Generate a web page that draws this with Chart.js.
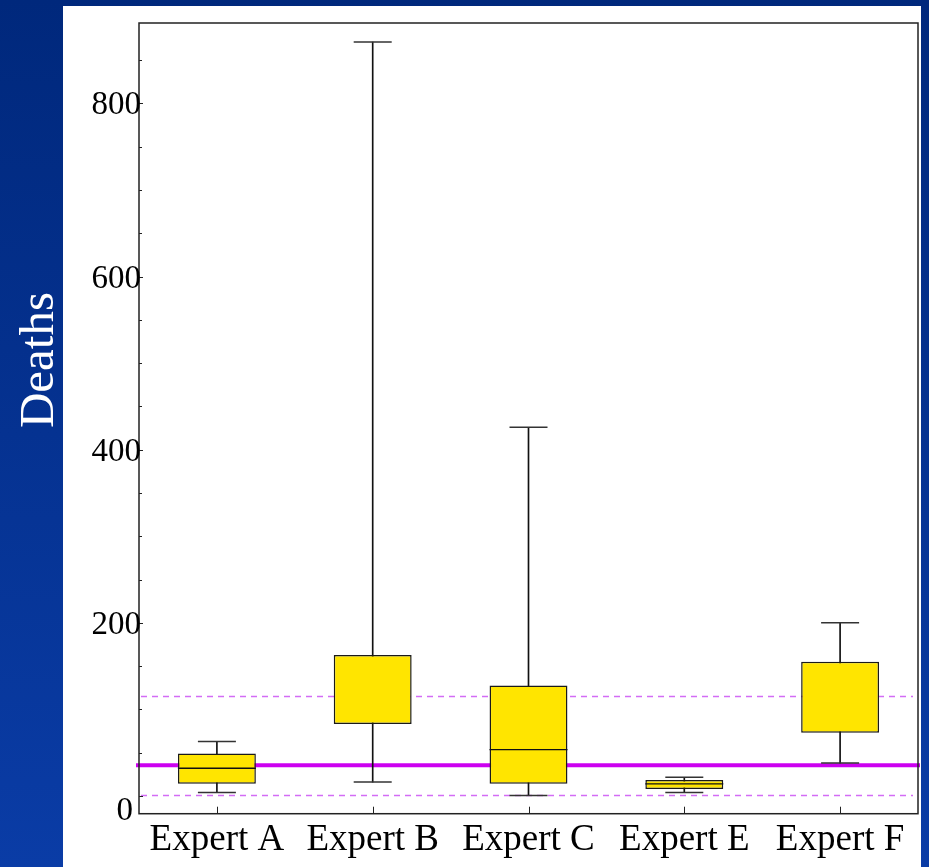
<!DOCTYPE html>
<html>
<head>
<meta charset="utf-8">
<script src="https://cdn.jsdelivr.net/npm/chart.js@4"></script>
<style>
  html, body { margin: 0; padding: 0; background: #0a3596; }
  #wrap { width: 929px; height: 867px; position: relative; }
</style>
</head>
<body>
<div id="wrap"><canvas id="box"></canvas></div>
<script>
/* box-whisker: deaths per expert */

const experts     = ['Expert A', 'Expert B', 'Expert C', 'Expert E', 'Expert F'];
const whiskerLow  = [4, 16, 0.5, 4, 38];
const q1          = [14, 83, 14, 8, 73];
const median      = [32, null, 53.5, 14, null];
const q3          = [49, 163, 127.5, 18.5, 155];
const whiskerHigh = [63, 871, 426, 21.5, 200];

const refMean = 35.5;
const refBand = [1, 116];

const yTickLabels = [0, 200, 400, 600, 800];
const yMinorStep  = 50;

const SERIF = "'Liberation Serif', 'DejaVu Serif', serif";

function blueGrad(ctx, h) {
  const g = ctx.createLinearGradient(0, 0, 0, h);
  g.addColorStop(0, '#00287c');
  g.addColorStop(1, '#0a3ca6');
  return g;
}

// blue slide background + white panel
const backdrop = {
  id: 'backdrop',
  beforeDraw(chart) {
    const { ctx, width, height } = chart;
    ctx.save();
    ctx.fillStyle = blueGrad(ctx, height);
    ctx.fillRect(0, 0, width, height);
    ctx.fillStyle = '#ffffff';
    ctx.fillRect(63, 6, 858, height - 6);
    ctx.restore();
  },
  afterDraw(chart) {
    const { ctx, width, height } = chart;
    ctx.save();
    // right strip covers the overflow of the last label
    ctx.fillStyle = blueGrad(ctx, height);
    ctx.fillRect(921, 0, width - 921, height);
    // axis title
    ctx.translate(53, 360);
    ctx.rotate(-Math.PI / 2);
    ctx.fillStyle = '#ffffff';
    ctx.font = '49px ' + SERIF;
    ctx.textAlign = 'center';
    ctx.textBaseline = 'alphabetic';
    ctx.fillText('Deaths', 0, 0);
    ctx.restore();
  }
};

// mean line and band limits, behind the boxes
const refLines = {
  id: 'refLines',
  beforeDatasetsDraw(chart) {
    const { ctx, chartArea: a, scales: { y } } = chart;
    ctx.save();
    ctx.strokeStyle = '#d36cf5';
    ctx.lineWidth = 1.5;
    ctx.setLineDash([6, 5]);
    refBand.forEach(v => {
      const py = Math.round(y.getPixelForValue(v)) + 0.5;
      ctx.beginPath();
      ctx.moveTo(a.left + 2, py);
      ctx.lineTo(a.right - 5, py);
      ctx.stroke();
    });
    ctx.setLineDash([]);
    ctx.strokeStyle = '#cc00f0';
    ctx.lineWidth = 4;
    const pm = y.getPixelForValue(refMean);
    ctx.beginPath();
    ctx.moveTo(a.left - 3, pm);
    ctx.lineTo(a.right + 2, pm);
    ctx.stroke();
    ctx.restore();
  }
};

// frame, inward ticks and y labels
const frame = {
  id: 'frame',
  afterDatasetsDraw(chart) {
    const { ctx, chartArea: a, scales: { x, y } } = chart;
    ctx.save();
    ctx.strokeStyle = '#222';
    ctx.lineWidth = 1.5;
    ctx.strokeRect(a.left, a.top, a.right - a.left, a.bottom - a.top);

    ctx.lineWidth = 1;
    for (let v = 0; v <= y.max; v += yMinorStep) {
      const py = Math.round(y.getPixelForValue(v)) + 0.5;
      const len = v % 200 === 0 ? 4 : 3;
      ctx.beginPath();
      ctx.moveTo(a.left, py);
      ctx.lineTo(a.left + len, py);
      ctx.stroke();
    }
    experts.forEach((_, i) => {
      const px = Math.round(x.getPixelForValue(i)) + 0.5;
      ctx.beginPath();
      ctx.moveTo(px, a.bottom);
      ctx.lineTo(px, a.bottom - 7);
      ctx.stroke();
    });

    ctx.fillStyle = '#000';
    ctx.font = '33px ' + SERIF;
    ctx.textAlign = 'right';
    ctx.textBaseline = 'alphabetic';
    yTickLabels.forEach(v => {
      const py = y.getPixelForValue(v);
      if (v === 0) ctx.fillText('0', a.left - 6, py + 24);
      else ctx.fillText(String(v), a.left + 2, py + 11);
    });
    ctx.restore();
  }
};

new Chart(document.getElementById('box'), {
  data: {
    labels: experts,
    datasets: [
      {
        type: 'line', label: 'median', data: median, order: 0,
        showLine: false, pointStyle: 'line', pointRadius: 39,
        pointBorderColor: '#111', pointBorderWidth: 1.3
      },
      {
        type: 'line', label: 'upper cap', data: whiskerHigh, order: 0,
        showLine: false, pointStyle: 'line', pointRadius: 19,
        pointBorderColor: '#333', pointBorderWidth: 1.5
      },
      {
        type: 'line', label: 'lower cap', data: whiskerLow, order: 0,
        showLine: false, pointStyle: 'line', pointRadius: 19,
        pointBorderColor: '#333', pointBorderWidth: 1.5
      },
      {
        type: 'bar', label: 'box', order: 1, grouped: false,
        data: experts.map((_, i) => [q1[i], q3[i]]),
        backgroundColor: '#ffe500', borderColor: '#1a1a1a',
        borderWidth: 1.5, borderSkipped: false,
        categoryPercentage: 1, barPercentage: 0.5
      },
      {
        type: 'bar', label: 'whisker', order: 2, grouped: false,
        data: experts.map((_, i) => [whiskerLow[i], whiskerHigh[i]]),
        backgroundColor: '#111', barThickness: 1
      }
    ]
  },
  options: {
    responsive: true,
    maintainAspectRatio: false,
    animation: false,
    layout: { autoPadding: false, padding: { left: 139, top: 23, right: 11, bottom: 0 } },
    plugins: { legend: { display: false }, tooltip: { enabled: false } },
    scales: {
      x: {
        offset: true,
        grid: { display: false, drawTicks: false },
        border: { display: false },
        ticks: {
          color: '#000', font: { family: SERIF, size: 37, lineHeight: 1.17 },
          padding: 5, maxRotation: 0, autoSkip: false
        }
      },
      y: {
        display: false,
        min: -20.5, max: 893
      }
    }
  },
  plugins: [backdrop, refLines, frame]
});
</script>
</body>
</html>
